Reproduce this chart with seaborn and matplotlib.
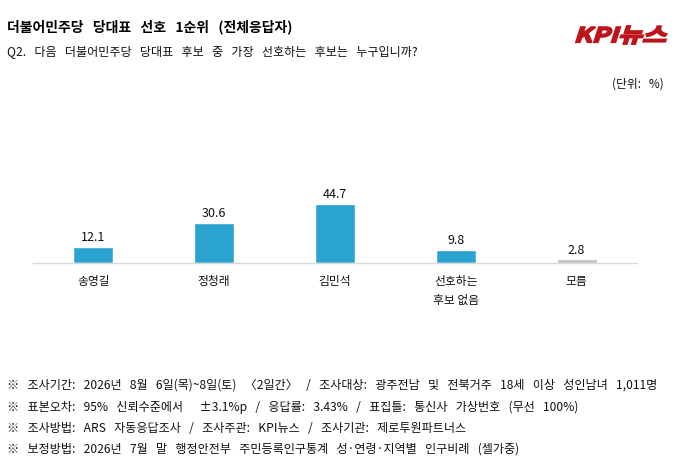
import matplotlib
matplotlib.use("Agg")
import matplotlib.pyplot as plt
import seaborn as sns
from matplotlib.textpath import TextPath
from matplotlib.font_manager import FontProperties
from matplotlib.patches import PathPatch
from matplotlib.transforms import Affine2D

# 데이터
categories = ["송영길", "정청래", "김민석", "선호하는\n후보 없음", "모름"]
values = [12.1, 30.6, 44.7, 9.8, 2.8]
bar_colors = ["#2ba3d0", "#2ba3d0", "#2ba3d0", "#2ba3d0", "#bfbfbf"]

title = "더불어민주당 당대표 선호 1순위 (전체응답자)"
subtitle = "Q2. 다음 더불어민주당 당대표 후보 중 가장 선호하는 후보는 누구입니까?"
unit_text = "(단위: %)"
notes = [
    "※ 조사기간: 2026년 8월 6일(목)~8일(토) 〈2일간〉 / 조사대상: 광주전남 및 전북거주 18세 이상 성인남녀 1,011명",
    "※ 표본오차: 95% 신뢰수준에서  ±3.1%p / 응답률: 3.43% / 표집틀: 통신사 가상번호 (무선 100%)",
    "※ 조사방법: ARS 자동응답조사 / 조사주관: KPI뉴스 / 조사기관: 제로투원파트너스",
    "※ 보정방법: 2026년 7월 말 행정안전부 주민등록인구통계 성·연령·지역별 인구비례 (셀가중)",
]


def wide(s, n=3):
    # 원본 폰트는 공백이 넓음
    return s.replace(" ", " " * n)


sns.set_theme(style="white")
plt.rcParams["font.family"] = ["Noto Sans CJK KR", "DejaVu Sans"]

W, H = 679, 468
fig = plt.figure(figsize=(W / 100, H / 100), dpi=100)
ax = fig.add_axes([33 / W, (H - 263) / H, 604 / W, 163 / H])

sns.barplot(x=categories, y=values, hue=categories, palette=bar_colors,
            width=0.33, legend=False, ax=ax, saturation=1)
for c in ax.containers:
    ax.bar_label(c, fmt="%.1f", padding=2, fontsize=9, color="#111111")

ax.set_xlim(-0.5, 4.5)
ax.set_ylim(0, 163 / 1.32)
ax.set_xlabel("")
ax.set_ylabel("")
ax.set_yticks([])
for s in ["left", "right", "top"]:
    ax.spines[s].set_visible(False)
ax.spines["bottom"].set_color("#d9d9d9")
ax.spines["bottom"].set_linewidth(1)
ax.tick_params(axis="x", length=0, pad=9, labelsize=8.5, labelcolor="#111111")
for lab in ax.get_xticklabels():
    lab.set_linespacing(1.5)
    lab.set_verticalalignment("top")

# 제목
fig.text(7 / W, 1 - 27 / H, wide(title), fontsize=10, fontweight="bold",
         va="center", ha="left", color="#000000")
fig.text(7 / W, 1 - 52 / H, wide(subtitle), fontsize=8.7, va="center", ha="left",
         color="#111111")
fig.text(664 / W, 1 - 84 / H, wide(unit_text), fontsize=8.5, va="center", ha="right",
         color="#111111")

note_y = [385, 407, 428, 449]
for txt, y in zip(notes, note_y):
    fig.text(7 / W, 1 - y / H, wide(txt), fontsize=8.7, va="center", ha="left",
             color="#111111")

# 로고 (기울어진 굵은 글씨)
fp = FontProperties(family="Noto Sans CJK KR", weight="black")
tp = TextPath((0, 0), "KPI뉴스", size=1, prop=fp)
tp = tp.transformed(Affine2D().skew_deg(14, 0))
ext = tp.get_extents()
x0, x1, ytop, ybot = 576, 667, 26, 44
sx = (x1 - x0) / ext.width
sy = (ybot - ytop) / ext.height
tr = (Affine2D().translate(-ext.x0, -ext.y0).scale(sx, sy)
      .translate(x0, H - ybot).scale(1 / 100) + fig.dpi_scale_trans)
fig.patches.append(PathPatch(tp, transform=tr, facecolor="#c0141b",
                             edgecolor="#c0141b", linewidth=1.3))

fig.savefig("out.png", dpi=100)
